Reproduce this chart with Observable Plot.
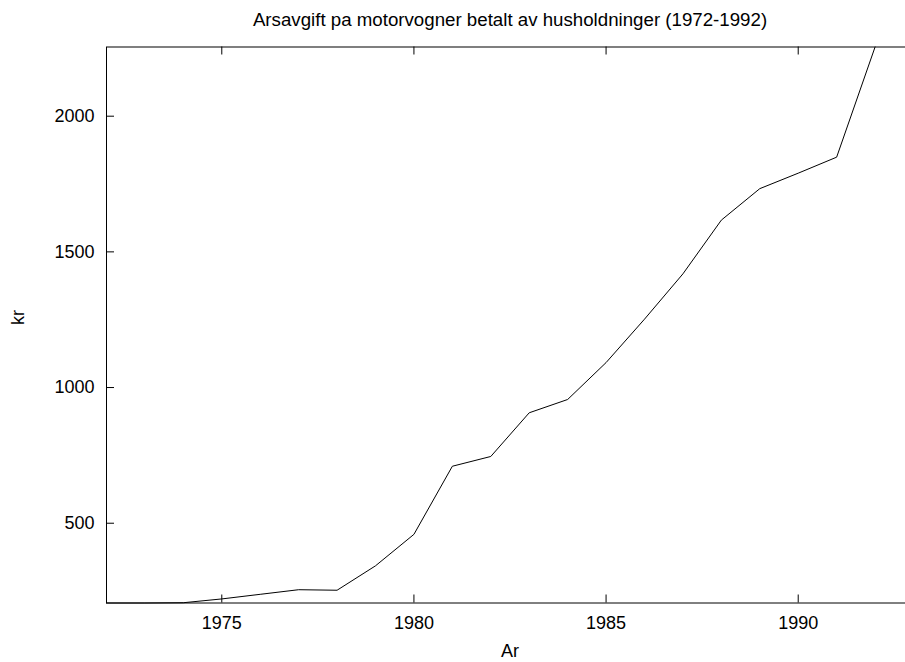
<!DOCTYPE html>
<html><head><meta charset="utf-8">
<script src="https://cdn.jsdelivr.net/npm/d3@7"></script>
<script src="https://cdn.jsdelivr.net/npm/@observablehq/plot@0.6"></script>
<style>html,body{margin:0;padding:0;background:#fff;overflow:hidden;}</style>
</head><body><div id="chart"></div>
<script>
const title = "Arsavgift pa motorvogner betalt av husholdninger (1972-1992)";
const xLabel = "Ar";
const yLabel = "kr";
const years = [1972,1973,1974,1975,1976,1977,1978,1979,1980,1981,1982,1983,1984,1985,1986,1987,1988,1989,1990,1991,1992];
const values = [206,206,207,221,238,255,253,343,459,710,746,907,956,1092,1252,1419,1617,1733,1790,1849,2255];
const xTicks = [1975,1980,1985,1990];
const yTicks = [500,1000,1500,2000];
const xDomain = [1972, 1993];
const yDomain = [206, 2255];

const W = 905, H = 662;
const mL = 106, mT = 46.5, mB = 59.5, mR = -8;
const innerH = H - mT - mB;
const innerW = W - mL - mR;
const tick = 8;
const fs = 18;
const data = years.map((y, i) => ({year: y, value: values[i]}));
const font = "'Liberation Sans', Arial, Helvetica, sans-serif";

const chart = Plot.plot({
  width: W, height: H,
  marginLeft: mL, marginRight: mR, marginTop: mT, marginBottom: mB,
  style: {fontFamily: font, fontSize: fs + "px", color: "#000", background: "#fff"},
  x: {domain: xDomain},
  y: {domain: yDomain},
  marks: [
    Plot.line(data, {x: "year", y: "value", stroke: "#000", strokeWidth: 1}),
    Plot.ruleX(xTicks, {x: d => d, insetTop: innerH - tick, stroke: "#000"}),
    Plot.ruleX(xTicks, {x: d => d, insetBottom: innerH - tick, stroke: "#000"}),
    Plot.ruleY(yTicks, {y: d => d, insetRight: innerW - tick, stroke: "#000"}),
    Plot.ruleY(yTicks, {y: d => d, insetLeft: innerW - tick, stroke: "#000"}),
    Plot.frame({stroke: "#000"}),
    Plot.axisX(xTicks, {tickSize: 0, tickPadding: 13.5, fontSize: fs, tickFormat: d => String(d), label: null, fill: "#000"}),
    Plot.axisY(yTicks, {tickSize: 0, tickPadding: 12, fontSize: fs, tickFormat: d => String(d), label: null, fill: "#000"}),
    Plot.text([title], {frameAnchor: "top", dy: -26.5, fontSize: 18.7, lineAnchor: "middle", fill: "#000"}),
    Plot.text([xLabel], {frameAnchor: "bottom", dy: 48, fontSize: fs, lineAnchor: "middle", fill: "#000"}),
    Plot.text([yLabel], {frameAnchor: "left", dx: -88, rotate: -90, fontSize: fs, lineAnchor: "middle", fill: "#000"})
  ]
});
document.getElementById("chart").appendChild(chart);
</script>
</body></html>
